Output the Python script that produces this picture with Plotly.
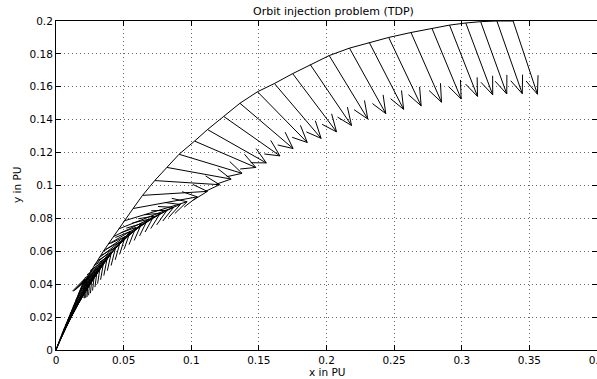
import plotly.graph_objects as go

title_text = "Orbit injection problem (TDP)"
x_label = "x in PU"
y_label = "y in PU"

# trajectory points (arrow tails), in PU
x_pos = [0.0, 0.0001, 0.00035, 0.0008, 0.0014, 0.0022, 0.00315, 0.0043, 0.0056, 0.0071,
         0.00875, 0.0106, 0.0126, 0.0148, 0.0172, 0.0197, 0.0224, 0.0253, 0.0284, 0.0316,
         0.0350, 0.0386, 0.0424, 0.0463, 0.0504,
         0.057, 0.064, 0.073, 0.082, 0.091, 0.1025, 0.112, 0.124, 0.136, 0.149,
         0.1615, 0.175, 0.188, 0.202, 0.217, 0.2316, 0.246, 0.2625, 0.278, 0.291,
         0.303, 0.314, 0.326, 0.338]
y_pos = [0.0, 0.0002, 0.0008, 0.0017, 0.0031, 0.0048, 0.0069, 0.0095, 0.0122, 0.0152,
         0.0185, 0.0222, 0.0262, 0.0306, 0.0350, 0.0395, 0.0434, 0.0474, 0.0518, 0.0559,
         0.0600, 0.0643, 0.0689, 0.0736, 0.0785,
         0.086, 0.094, 0.103, 0.111, 0.119, 0.127, 0.134, 0.142, 0.150, 0.157,
         0.162, 0.168, 0.1735, 0.179, 0.1835, 0.187, 0.190, 0.193, 0.1955, 0.1975,
         0.1988, 0.1996, 0.2, 0.2]
# thrust direction vectors (as drawn), in PU
u_vec = [0.02104, 0.02169, 0.02236, 0.02306, 0.02381, 0.02460, 0.02544, 0.02632, 0.02725,
         0.02823, 0.02927, 0.03036, 0.03150, 0.03269, 0.03394, 0.03524, 0.03657, 0.03794,
         0.03932, 0.04070, 0.04206, 0.04336, 0.04457, 0.04565, 0.04656,
         0.04747, 0.04794, 0.04793, 0.04747, 0.04657, 0.04524, 0.04350, 0.04157,
         0.03932, 0.03677, 0.03453, 0.03243, 0.03053, 0.02855, 0.02684, 0.02544, 0.02400,
         0.02254, 0.02157, 0.02066, 0.01991, 0.01929, 0.01875, 0.01798]
v_vec = [0.04314, 0.04282, 0.04248, 0.04210, 0.04167, 0.04122, 0.04070, 0.04014, 0.03951,
         0.03882, 0.03804, 0.03719, 0.03622, 0.03515, 0.03394, 0.03259, 0.03108, 0.02940,
         0.02752, 0.02544, 0.02313, 0.02059, 0.01783, 0.01483, 0.01164,
         0.00710, 0.00243, -0.00251, -0.00710, -0.01161, -0.01602, -0.02028,
         -0.02400, -0.02753, -0.03085, -0.03335, -0.03539, -0.03704, -0.03859, -0.03979,
         -0.04070, -0.04157, -0.04238, -0.04288, -0.04332, -0.04368, -0.04395, -0.04418,
         -0.04451]

head_len = 0.22
head_wid = 0.45

qx, qy = [], []
for x, y, u, v in zip(x_pos, y_pos, u_vec, v_vec):
    tx, ty = x + u, y + v
    qx += [x, tx, None]
    qy += [y, ty, None]
    b1x = tx - head_len * (u + head_wid * v)
    b1y = ty - head_len * (v - head_wid * u)
    b2x = tx - head_len * (u - head_wid * v)
    b2y = ty - head_len * (v + head_wid * u)
    qx += [b1x, tx, b2x, None]
    qy += [b1y, ty, b2y, None]

fig = go.Figure()
fig.add_trace(go.Scatter(x=x_pos, y=y_pos, mode="lines",
                         line=dict(color="black", width=1), hoverinfo="skip"))
fig.add_trace(go.Scatter(x=qx, y=qy, mode="lines",
                         line=dict(color="black", width=1), hoverinfo="skip"))

W, H = 597, 379
L, R, T, B = 56, 0, 21, 29
pw, ph = W - L - R, H - T - B

def px_x(p):
    return (p - L) / pw

def px_y(p):
    return (H - B - p) / ph

font = "DejaVu Sans, Liberation Sans, Arial, sans-serif"
axis_common = dict(showline=True, linecolor="black", linewidth=1, mirror="ticks",
                   ticks="inside", ticklen=5, tickcolor="black", tickwidth=1,
                   showgrid=True, gridcolor="#666666", griddash="1px,3px", gridwidth=1,
                   zeroline=False, ticklabeloverflow="allow", automargin=False,
                   tickfont=dict(family=font, size=10.5, color="black"))

fig.update_layout(
    width=W, height=H,
    margin=dict(l=L, r=R, t=T, b=B, pad=0, autoexpand=False),
    paper_bgcolor="white", plot_bgcolor="white",
    showlegend=False,
    xaxis=dict(range=[0, 0.40002], dtick=0.05, tick0=0, **axis_common),
    yaxis=dict(range=[0, 0.2], dtick=0.02, tick0=0, **axis_common),
    annotations=[
        dict(text=title_text, x=px_x(333), y=px_y(11), xref="paper", yref="paper",
             showarrow=False, xanchor="center", yanchor="middle",
             font=dict(family=font, size=11, color="black")),
        dict(text=x_label, x=px_x(327), y=px_y(372), xref="paper", yref="paper",
             showarrow=False, xanchor="center", yanchor="middle",
             font=dict(family=font, size=10.5, color="black")),
        dict(text=y_label, x=px_x(17), y=px_y(185), xref="paper", yref="paper",
             showarrow=False, xanchor="center", yanchor="middle", textangle=-90,
             font=dict(family=font, size=10.5, color="black")),
    ],
)

fig.write_html("out.html")
